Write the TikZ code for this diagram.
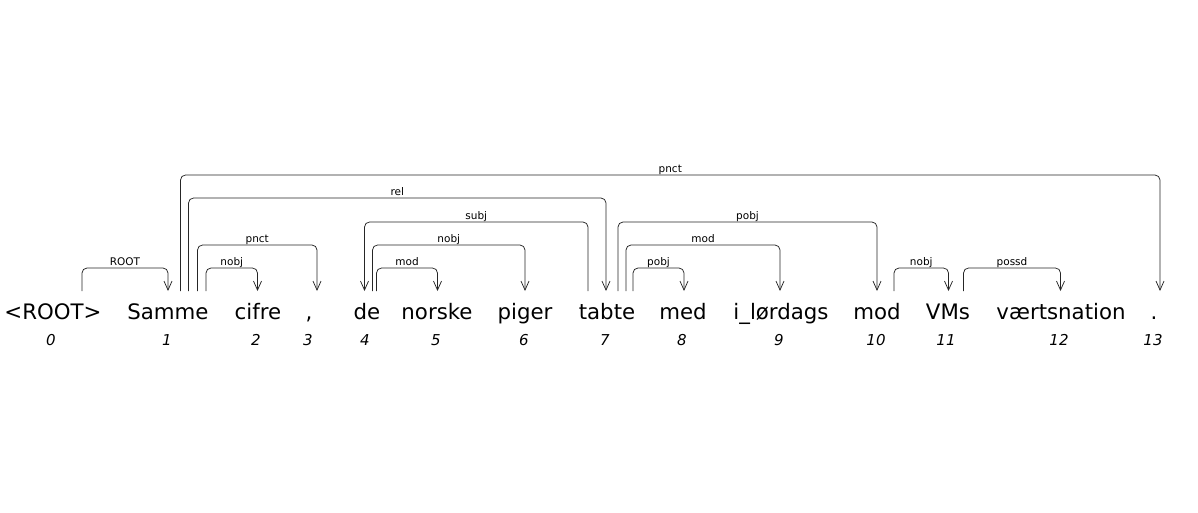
\documentclass[tikz,border=0pt]{standalone}
\usepackage{fontspec}
\setmainfont{DejaVu Sans}
\usetikzlibrary{arrows.meta}
\begin{document}
\begin{tikzpicture}[x=1pt,y=-1pt,
  word/.style={anchor=base,inner sep=0pt,font=\fontsize{21.3}{25}\selectfont},
  idx/.style={anchor=base,inner sep=0pt,font=\fontsize{15}{18}\selectfont\itshape},
  lab/.style={anchor=base,inner sep=0pt,font=\fontsize{10.5}{12}\selectfont},
  dep/.style={draw=black!85,line width=0.75pt,rounded corners=5pt,-{Straight Barb[length=9pt,width=8pt,line width=0.75pt]}}]
\useasboundingbox (0,0) rectangle (1198,513);
\foreach \n/\x/\t/\ix in {0/53/{<ROOT>}/51, 1/168/Samme/167, 2/258/cifre/256, 3/309/{,}/308, 4/367/de/365, 5/437/norske/436, 6/525/piger/524, 7/607/tabte/605, 8/683/med/682, 9/781/i\_lørdags/779, 10/877/mod/876, 11/948/VMs/946, 12/1061/værtsnation/1059, 13/1154/./1153}{
  \node[word] (w\n) at (\x,319.5) {\t};
  \node[idx] (i\n) at (\ix,345) {\n};
}
\foreach \k/\xs/\xe/\top/\l in {
  1/82/168/268/ROOT,
  2/206/257.5/268/nobj,
  3/197.5/317/245/pnct,
  4/188.5/606/198/rel,
  5/180.5/1160/175/pnct,
  6/588/364.5/222/subj,
  7/372.5/525/245/nobj,
  8/376.5/437.5/268/mod,
  9/618/877/222/pobj,
  10/626/780/245/mod,
  11/633/684/268/pobj,
  12/894/948.5/268/nobj,
  13/963.5/1060.5/268/possd}{
  \coordinate (s\k) at (\xs,291);
  \coordinate (e\k) at (\xe,291);
  \coordinate (t\k) at ({(\xs+\xe)/2},\top);
  \draw[dep] (s\k) |- (t\k) -| (e\k);
  \node[lab] (l\k) at ([yshift=3pt]t\k) {\l};
}
\end{tikzpicture}
\end{document}
